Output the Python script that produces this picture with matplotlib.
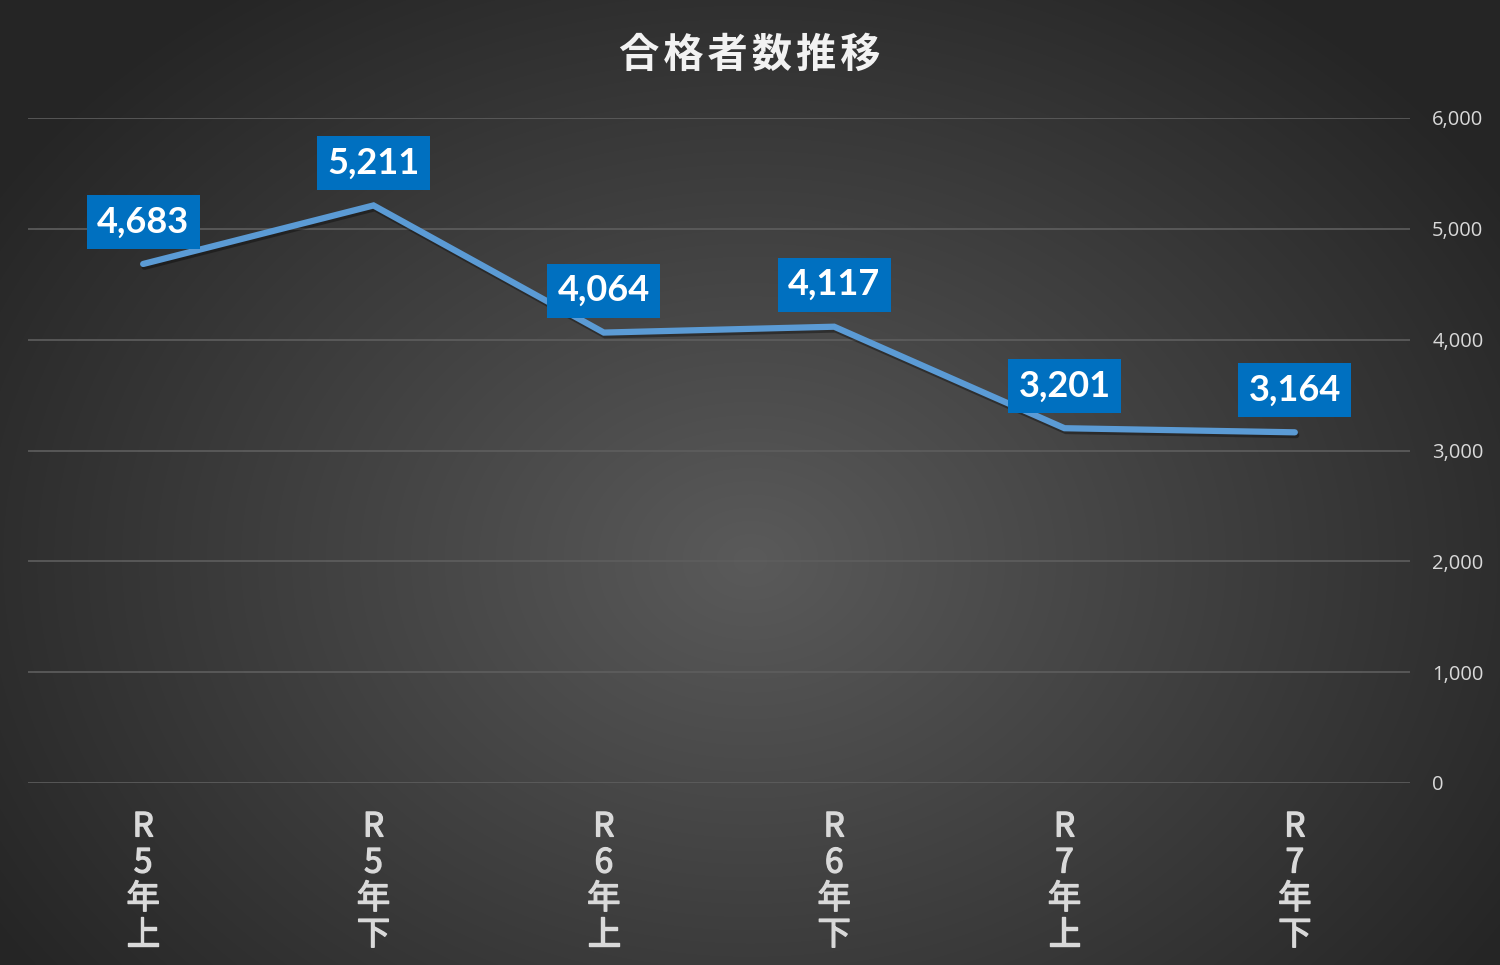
import numpy as np
import matplotlib
matplotlib.use("Agg")
import matplotlib.pyplot as plt
from matplotlib import patheffects as pe

categories = ["R5年上", "R5年下", "R6年上", "R6年下", "R7年上", "R7年下"]
values = [4683, 5211, 4064, 4117, 3201, 3164]
yticks = [0, 1000, 2000, 3000, 4000, 5000, 6000]
title = "合格者数推移"

plt.rcParams['font.family'] = ['Noto Sans CJK JP', 'DejaVu Sans']

W, H = 1500, 965
fig = plt.figure(figsize=(W / 100, H / 100), dpi=100)

# radial gradient background
bg = fig.add_axes([0, 0, 1, 1], zorder=-10)
yy, xx = np.mgrid[0:H, 0:W]
cx, cy = 750, 560
r = np.sqrt(((xx - cx) / 900.0) ** 2 + ((yy - cy) / 700.0) ** 2)
r = np.clip(r, 0, 1)
inner = np.array([0x5A, 0x5A, 0x5A]) / 255.0
outer = np.array([0x25, 0x25, 0x25]) / 255.0
img = inner[None, None, :] * (1 - r[..., None]) + outer[None, None, :] * r[..., None]
bg.imshow(img, aspect='auto', extent=[0, 1, 0, 1])
bg.axis('off')

ax = fig.add_axes([28 / W, 1 - 783 / H, (1410 - 28) / W, (783 - 118) / H])
ax.set_facecolor('none')
x = np.arange(len(categories))

ax.plot(x, values, color='#5B9BD5', lw=4.5, solid_capstyle='round', solid_joinstyle='miter',
        path_effects=[pe.SimpleLineShadow(offset=(1, -2), shadow_color='black', alpha=0.35),
                      pe.Normal()], zorder=3)

for xi, v in zip(x, values):
    ax.annotate(f"{v:,}", (xi, v), xytext=(0, 42), textcoords='offset pixels',
                ha='center', va='center', fontsize=26, fontweight='bold',
                family=['Lato', 'DejaVu Sans'], color='white', zorder=5,
                bbox=dict(boxstyle='square,pad=0.29', fc='#0070C0', ec='none'))

ax.set_xlim(-0.5, len(categories) - 0.5)
ax.set_ylim(0, 6000)
ax.set_yticks(yticks)
ax.set_yticklabels([f"{t:,}" for t in yticks], family=['Open Sans', 'DejaVu Sans'],
                   fontsize=14.5, color='#D9D9D9')
ax.yaxis.tick_right()
ax.tick_params(axis='y', length=0, pad=16)
ax.grid(axis='y', color='#5E5E5E', lw=1.2)
ax.set_axisbelow(True)
ax.set_xticks(x)
ax.set_xticklabels(["\n".join(c) for c in categories], fontsize=24, color='#D9D9D9',
                   fontweight='normal', linespacing=1.04, va='top')
for lbl in ax.get_xticklabels():
    lbl.set_path_effects([pe.withStroke(linewidth=1.0, foreground='#D9D9D9')])
ax.tick_params(axis='x', length=0, pad=19)
for s in ax.spines.values():
    s.set_visible(False)

fig.text(0.5, 1 - 55 / H, "\u200a".join(title), ha='center', va='center', fontsize=29,
         fontweight='bold', color='#F2F2F2', family=['Noto Sans CJK JP', 'DejaVu Sans'])

fig.savefig('out.png', dpi=100)
